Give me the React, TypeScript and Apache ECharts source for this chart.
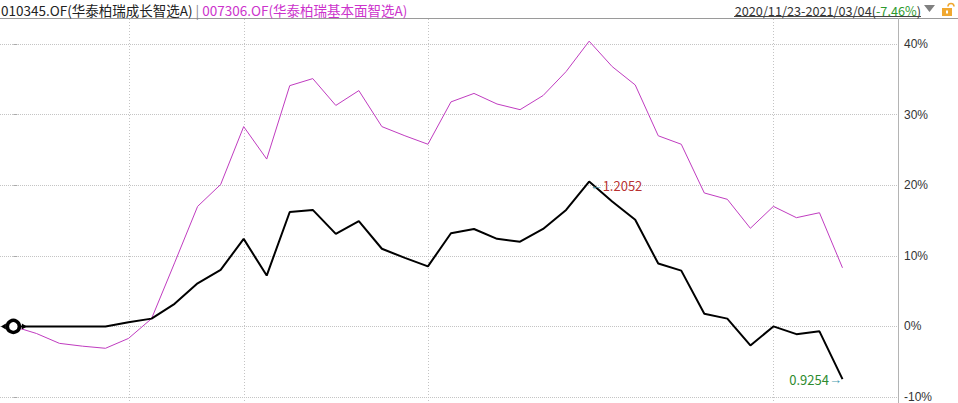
import React, { useEffect, useRef } from 'react';
import * as echarts from 'echarts';

const growthName = '010345.OF(华泰柏瑞成长智选A)';
const fundamentalName = '007306.OF(华泰柏瑞基本面智选A)';
const dateRange = '2020/11/23-2021/03/04';
const rangeChange = '-7.46%';

// cumulative change (%) of each fund over the period, one point per sample
const growthPct = [
  0, 0, 0, 0, 0, 0.6, 1.1, 3.2, 6.1, 8.0,
  12.4, 7.2, 16.2, 16.5, 13.1, 14.9, 11.0, 9.7, 8.5, 13.2,
  13.8, 12.4, 12.0, 13.8, 16.5, 20.52, 17.7, 15.1, 8.9, 7.9,
  1.8, 1.1, -2.7, 0.0, -1.1, -0.7, -7.46,
];
const fundamentalPct = [
  0, -1.0, -2.4, -2.8, -3.1, -1.7, 1.1, 9.0, 17.0, 20.1,
  28.3, 23.7, 34.1, 35.1, 31.3, 33.4, 28.3, 27.0, 25.8, 31.8,
  33.0, 31.5, 30.7, 32.7, 36.1, 40.4, 36.8, 34.2, 27.0, 25.8,
  18.9, 18.0, 13.9, 17.0, 15.4, 16.1, 8.3,
];
const verticalGridIdx = [5, 10, 18, 33];
const yMin = -10;
const yMax = 40;
const yStep = 10;

const FONT = '"Noto Sans CJK SC", "Noto Sans", sans-serif';
const NUMFONT = '"Liberation Sans", Arial, sans-serif';

export default function App() {
  const ref = useRef<HTMLDivElement>(null);
  useEffect(() => {
    if (!ref.current) return;
    const chart = echarts.init(ref.current, null, { renderer: 'svg' });
    const blackData = growthPct.map((v, i) => [i, v]);
    const magData = fundamentalPct.map((v, i) => [i, v]);
    let peakIdx = 0;
    growthPct.forEach((v, i) => { if (v > growthPct[peakIdx]) peakIdx = i; });
    const lastIdx = growthPct.length - 1;
    const peakNav = (1 + growthPct[peakIdx] / 100).toFixed(4);
    const lastNav = (1 + growthPct[lastIdx] / 100).toFixed(4);

    const baseGraphic: any[] = [
      { type: 'line', shape: { x1: 0, y1: 18.5, x2: 958, y2: 18.5 }, style: { stroke: '#9a9a9a', lineWidth: 1 }, silent: true },
      { type: 'line', shape: { x1: 898.5, y1: 18, x2: 898.5, y2: 403 }, style: { stroke: '#b4b4b4', lineWidth: 1 }, silent: true },
      {
        type: 'text', x: 1, y: 10,
        style: {
          text: `{a|${growthName}}{s| | }{b|${fundamentalName}}`,
          verticalAlign: 'middle',
          rich: {
            a: { fill: '#222', fontSize: 13.5, fontFamily: FONT },
            s: { fill: '#888', fontSize: 13.5, fontFamily: FONT },
            b: { fill: '#cc33cc', fontSize: 13.5, fontFamily: FONT },
          },
        },
      },
      {
        type: 'text', x: 921, y: 10,
        style: {
          text: `{a|${dateRange}(}{g|${rangeChange}}{a|)}`,
          align: 'right',
          verticalAlign: 'middle',
          rich: {
            a: { fill: '#333', fontSize: 12.7, fontFamily: FONT },
            g: { fill: '#2e9a2e', fontSize: 12.7, fontFamily: FONT },
          },
        },
      },
      { type: 'line', shape: { x1: 734, y1: 16.5, x2: 921, y2: 16.5 }, style: { stroke: '#444', lineWidth: 1 } },
      { type: 'polygon', shape: { points: [[924, 5], [935, 5], [929.5, 12]] }, style: { fill: '#808080' } },
      { type: 'arc', shape: { cx: 951, cy: 6.5, r: 3, startAngle: Math.PI, endAngle: 2 * Math.PI }, style: { stroke: '#f0a830', lineWidth: 1.6, fill: 'none' } },
      { type: 'rect', shape: { x: 942, y: 8, width: 10, height: 8 }, style: { fill: '#f0a830' } },
      { type: 'rect', shape: { x: 946, y: 10.5, width: 2, height: 3 }, style: { fill: '#fff' } },
    ];

    chart.setOption({
      animation: false,
      backgroundColor: '#fff',
      grid: { left: 0, right: 60, top: 44, bottom: 6, containLabel: false },
      xAxis: {
        type: 'value',
        min: -0.58,
        max: 38.41,
        show: false,
        splitLine: { show: false },
      },
      yAxis: {
        type: 'value',
        position: 'right',
        min: yMin,
        max: yMax,
        interval: yStep,
        axisLine: { show: false },
        axisTick: { show: true, length: 4, lineStyle: { color: '#aaa' } },
        axisLabel: {
          margin: 6,
          color: '#333',
          fontSize: 12,
          fontFamily: NUMFONT,
          formatter: '{value}%',
        },
        splitLine: { show: true, lineStyle: { type: 'dotted', color: '#c4c4c4', width: 1 } },
      },
      graphic: baseGraphic,
      series: [
        {
          name: fundamentalName,
          type: 'line',
          data: magData,
          symbol: 'none',
          clip: false,
          z: 2,
          lineStyle: { color: '#c03cc0', width: 1 },
        },
        {
          name: growthName,
          type: 'line',
          data: blackData,
          symbol: 'none',
          clip: false,
          z: 3,
          lineStyle: { color: '#000', width: 2 },
          markPoint: {
            silent: true,
            data: [
              {
                coord: [peakIdx, growthPct[peakIdx]],
                symbol: 'circle', symbolSize: 1,
                itemStyle: { color: 'rgba(0,0,0,0)' },
                label: {
                  show: true, position: 'right', distance: 0, offset: [0, 4],
                  formatter: `{a|←}{v|${peakNav}}`,
                  rich: {
                    a: { color: '#4a9cb0', fontSize: 13, fontFamily: NUMFONT },
                    v: { color: '#b83232', fontSize: 13, fontFamily: FONT },
                  },
                },
              },
              {
                coord: [lastIdx, growthPct[lastIdx]],
                symbol: 'circle', symbolSize: 1,
                itemStyle: { color: 'rgba(0,0,0,0)' },
                label: {
                  show: true, position: 'left', distance: 0,
                  formatter: `{v|${lastNav}}{a|→}`,
                  rich: {
                    a: { color: '#4a9cb0', fontSize: 13, fontFamily: NUMFONT },
                    v: { color: '#2e8b2e', fontSize: 13, fontFamily: FONT },
                  },
                },
              },
              {
                coord: [0, growthPct[0]],
                symbol: 'triangle', symbolSize: [6, 5], symbolRotate: 90, symbolOffset: [-10, 0],
                itemStyle: { color: '#000' }, label: { show: false },
              },
              {
                coord: [0, growthPct[0]],
                symbol: 'triangle', symbolSize: [6, 5], symbolRotate: -90, symbolOffset: [11, 0],
                itemStyle: { color: '#000' }, label: { show: false },
              },
              {
                coord: [0, growthPct[0]],
                symbol: 'circle', symbolSize: 12,
                itemStyle: { color: '#fff', borderColor: '#000', borderWidth: 3.5 },
                label: { show: false },
              },
            ],
          },
        },
      ],
    });

    // vertical dotted gridlines at selected samples, positioned through the x scale
    const vLines = verticalGridIdx.map((i) => {
      const px = chart.convertToPixel({ gridIndex: 0 }, [i, 0]) as number[];
      const x = Math.round(px[0]) + 0.5;
      return {
        type: 'line', silent: true, z: -1,
        shape: { x1: x, y1: 19, x2: x, y2: 403 },
        style: { stroke: '#c4c4c4', lineWidth: 1, lineDash: [1, 2] },
      };
    });
    chart.setOption({ graphic: [...baseGraphic, ...vLines] }, { replaceMerge: ['graphic'] });

    return () => chart.dispose();
  }, []);
  return (
    <div
      ref={ref}
      style={{ position: 'fixed', left: 0, top: 0, width: 958, height: 403, background: '#fff' }}
    />
  );
}
